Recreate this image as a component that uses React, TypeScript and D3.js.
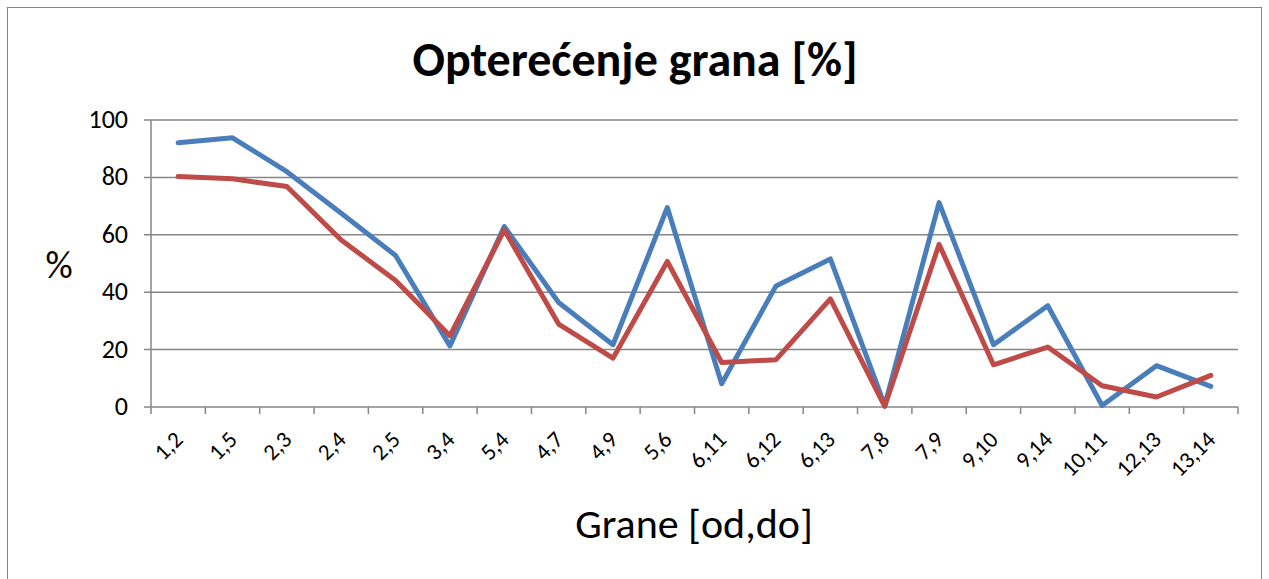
import * as d3 from 'd3';

const categories = ['1,2', '1,5', '2,3', '2,4', '2,5', '3,4', '5,4', '4,7', '4,9', '5,6', '6,11', '6,12', '6,13', '7,8', '7,9', '9,10', '9,14', '10,11', '12,13', '13,14'];
const blueValues = [92.1, 93.8, 82.0, 67.5, 52.8, 21.3, 62.9, 36.4, 21.7, 69.5, 8.1, 42.2, 51.6, 0.6, 71.2, 21.7, 35.3, 0.5, 14.4, 7.2];
const redValues = [80.3, 79.5, 76.8, 58.2, 44.1, 24.8, 61.7, 28.9, 17.0, 50.7, 15.5, 16.5, 37.7, 0.2, 56.7, 14.7, 20.9, 7.4, 3.5, 11.0];
const yTicks = [0, 20, 40, 60, 80, 100];

const W = 1269;
const H = 579;
const left = 151;
const right = 1238;
const top = 120;
const bottom = 407;

const font = 'Carlito, Calibri, "Open Sans", sans-serif';

export default function App() {
  const x = d3.scaleBand<string>().domain(categories).range([left, right]);
  const y = d3.scaleLinear().domain([0, 100]).range([bottom, top]);

  const line = d3
    .line<number>()
    .x((_, i) => (x(categories[i]) ?? 0) + x.bandwidth() / 2)
    .y((d) => y(d));

  const tickXs = categories.map((c) => x(c) ?? 0).concat([right]);

  return (
    <svg width={W} height={H} style={{ position: 'absolute', left: 0, top: 0 }}>
      <rect x={0} y={0} width={W} height={H} fill="#fff" />
      <rect x={7.5} y={7.5} width={1254} height={600} fill="none" stroke="#868686" strokeWidth={1} />

      {/* title */}
      <text x={635} y={76} textAnchor="middle" fontFamily={font} fontWeight={700} fontSize={48} fill="#000">
        Opterećenje grana [%]
      </text>

      {/* gridlines */}
      {yTicks.map((t) => (
        <g key={t}>
          <line x1={left - 7} x2={right} y1={y(t)} y2={y(t)} stroke="#868686" strokeWidth={1.5} />
          <text x={128} y={y(t) + 8} textAnchor="end" fontFamily={font} fontSize={26} fill="#000">
            {t}
          </text>
        </g>
      ))}

      {/* axes */}
      <line x1={left} x2={left} y1={top} y2={bottom} stroke="#868686" strokeWidth={1.5} />
      {tickXs.map((tx, i) => (
        <line key={i} x1={tx} x2={tx} y1={bottom} y2={bottom + 7} stroke="#868686" strokeWidth={1.5} />
      ))}

      {/* x tick labels */}
      {categories.map((c) => {
        const cx = (x(c) ?? 0) + x.bandwidth() / 2;
        return (
          <text
            key={c}
            transform={`translate(${cx + 6},${441}) rotate(-45)`}
            textAnchor="end"
            fontFamily={font}
            fontSize={23}
            fill="#000"
          >
            {c}
          </text>
        );
      })}

      {/* series */}
      <path d={line(blueValues) ?? ''} fill="none" stroke="#4a7ebb" strokeWidth={5} strokeLinejoin="round" strokeLinecap="round" />
      <path d={line(redValues) ?? ''} fill="none" stroke="#be4b48" strokeWidth={5} strokeLinejoin="round" strokeLinecap="round" />

      {/* axis titles */}
      <text x={59} y={278} textAnchor="middle" fontFamily={font} fontSize={38} fill="#000">
        %
      </text>
      <text x={694} y={538} textAnchor="middle" fontFamily={font} fontSize={42} fill="#000">
        Grane [od,do]
      </text>
    </svg>
  );
}
